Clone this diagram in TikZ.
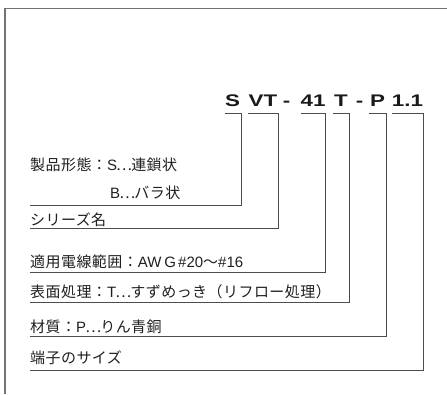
\documentclass[tikz,border=0pt]{standalone}
\usepackage{graphicx}
\usepackage{fontspec}
\setmainfont{Liberation Sans}
\newfontfamily\jpfont[LetterSpace=3]{Noto Sans CJK JP}
\newfontfamily\latfont{Liberation Sans}
\newcommand{\wide}[1]{\scalebox{1.33}[1]{#1}}
\newcommand{\dts}{\makebox[0.95em][c]{…}}
\newcommand{\lt}[1]{{\latfont #1}}
\begin{document}
\begin{tikzpicture}[x=1pt,y=-1pt,
  frameline/.style={draw=black!55,line width=1.6pt},
  bracket/.style={draw=black!70,line width=0.9pt},
  code/.style={font=\bfseries\fontsize{16.8}{17}\selectfont,anchor=base,inner sep=0pt,text=black!90},
  lbl/.style={font=\jpfont\fontsize{15}{16}\selectfont,anchor=west,inner sep=0pt,text=black!88}]
\useasboundingbox (0,0) rectangle (447,394);
\draw[frameline] (447,8.5) -- (5,8.5) -- (5,394);
% code pieces
\node[code] (cS)  at (232.5,106.5) {\wide{S}};
\node[code] (cVT) at (263,106.5) {\wide{VT}};
\node[code] (d1)  at (286.5,106.5) {\wide{-}};
\node[code] (c41) at (313,106.5) {\wide{41}};
\node[code] (cT)  at (341,106.5) {\wide{T}};
\node[code] (d2)  at (359.5,106.5) {\wide{-}};
\node[code] (cP)  at (377.5,106.5) {\wide{P}};
\node[code] (c11) at (407.5,106.5) {\wide{1.1}};
% labels
\node[lbl] (l1)  at (30,165) {製品形態：\lt{S}\dts 連鎖状};
\node[lbl] (l1b) at (110,193) {\lt{B}\dts バラ状};
\node[lbl] (l2)  at (30,220) {シリーズ名};
\node[lbl] (l3)  at (30,262) {適用電線範囲：\lt{AW\hspace{3pt}G\hspace{2pt}\#20}～\lt{\#16}};
\node[lbl] (l4)  at (30,292) {表面処理：\lt{T}\dts すずめっき（リフロー処理）};
\node[lbl] (l5)  at (30,327) {材質：\lt{P}\dts りん青銅};
\node[lbl] (l6)  at (30,358) {端子のサイズ};
% bracket coordinates
\coordinate (a1) at (225,113); \coordinate (b1) at (241,113); \coordinate (e1) at (30,205);
\coordinate (a2) at (248,113); \coordinate (b2) at (278,113); \coordinate (e2) at (30,228);
\coordinate (a3) at (301,113); \coordinate (b3) at (325,113); \coordinate (e3) at (30,272.5);
\coordinate (a4) at (333,113); \coordinate (b4) at (349,113); \coordinate (e4) at (30,302.5);
\coordinate (a5) at (369,113); \coordinate (b5) at (386,113); \coordinate (e5) at (30,336);
\coordinate (a6) at (392,113); \coordinate (b6) at (423,113); \coordinate (e6) at (30,370.5);
\foreach \i in {1,...,6}{
  \draw[bracket] (a\i) -- (b\i) |- (e\i);
}
\end{tikzpicture}
\end{document}
